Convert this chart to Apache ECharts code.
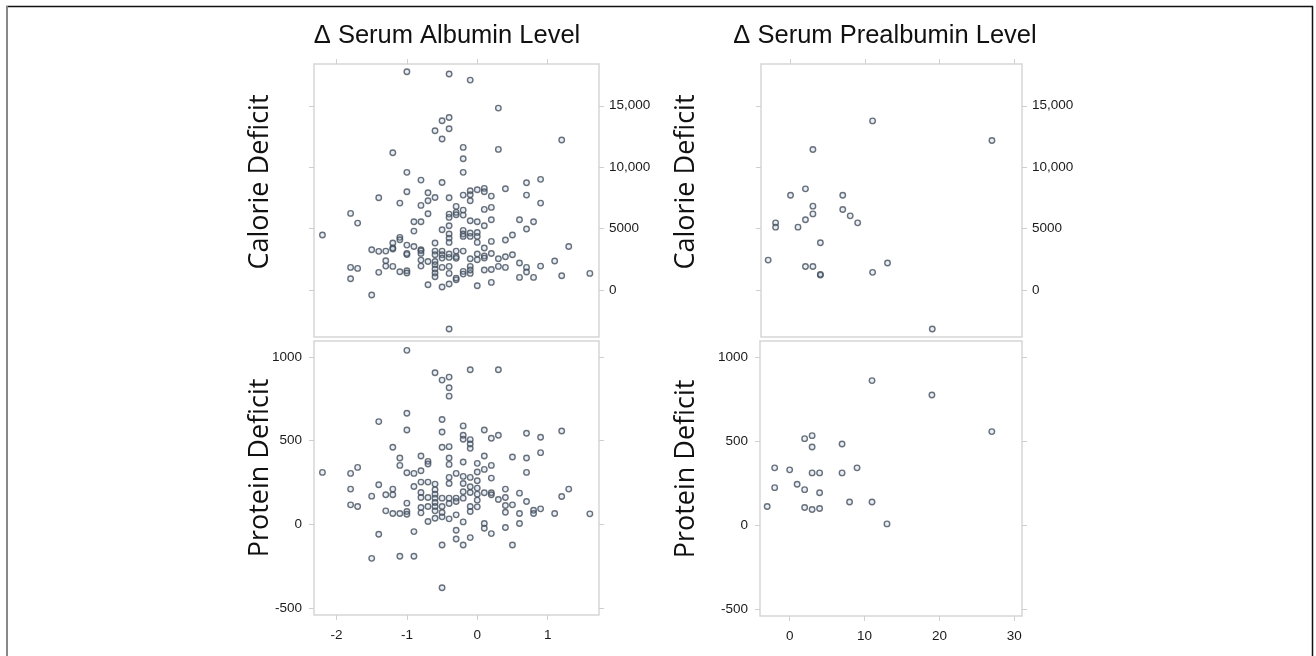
<!DOCTYPE html>
<html>
<head>
<meta charset="utf-8">
<script src="https://cdn.jsdelivr.net/npm/echarts@6/dist/echarts.min.js"></script>
<style>
  html, body { margin: 0; padding: 0; background: #fff; }
  #chart { width: 1316px; height: 656px; }
</style>
</head>
<body>
<div id="chart"></div>
<script>
// tick values
const albuminTicks = [-2, -1, 0, 1]
const prealbuminTicks = [0, 10, 20, 30]
const calorieTicks = [0, 5000, 10000, 15000]
const proteinTicks = [-500, 0, 500, 1000]

// [delta albumin, calorie deficit]
const albuminCalorie = [
  [-1.0, 17770], [-0.4, 17580], [-0.1, 17090], [0.3, 14810], [-0.4, 14050], [-0.5, 13780],
  [-0.6, 12970], [-0.4, 13130], [-0.5, 12290], [1.2, 12210], [-1.2, 11180], [-0.2, 11610],
  [0.3, 11450], [-0.2, 10690], [-1.0, 9580], [-0.2, 9580], [-0.8, 8950], [-0.5, 8760],
  [0.9, 9010], [0.7, 8740], [0.4, 8250], [-1.0, 8000], [-0.1, 8085], [0.0, 8170],
  [0.1, 8275], [0.1, 8000], [-0.1, 7760], [-0.2, 7730], [-0.7, 7920], [-0.4, 7515],
  [-0.6, 7540], [-0.7, 7270], [-1.4, 7515], [0.2, 7650], [0.7, 7730], [-0.1, 7270],
  [-1.1, 7080], [-0.8, 6890], [0.9, 7080], [-0.3, 6810], [-0.2, 6510], [0.1, 6565],
  [0.2, 6730], [-0.4, 6185], [-0.3, 6320], [-0.3, 6130], [-0.7, 6210], [-0.2, 6100],
  [-0.4, 5915], [-1.8, 6240], [-1.7, 5450], [-0.9, 5560], [-0.8, 5560], [-0.1, 5640],
  [0.0, 5560], [0.2, 5725], [0.6, 5725], [0.8, 5560], [0.1, 5235], [-0.4, 5235],
  [-0.5, 4910], [-0.9, 4800], [0.7, 4965], [-0.2, 4856], [-0.2, 4560], [-0.2, 4370],
  [-0.1, 4640], [-0.1, 4370], [0.0, 4690], [0.0, 4370], [-0.4, 4560], [-0.4, 4230],
  [0.5, 4480], [0.4, 4070], [0.2, 3960], [-0.6, 3825], [-0.4, 3880], [0.0, 3880],
  [-1.1, 4290], [-1.1, 4100], [-1.2, 3825], [-1.0, 3660], [-0.9, 3550], [-0.8, 3280],
  [-1.2, 3420], [-1.5, 3280], [-1.4, 3150], [-1.3, 3170], [-1.2, 3340], [-0.6, 3170],
  [-0.5, 3170], [-0.3, 3170], [-0.2, 3170], [0.1, 3420], [0.2, 2980], [-0.6, 2875],
  [-0.5, 2875], [-0.5, 2600], [-0.4, 2660], [-0.3, 2710], [-0.3, 2580], [0.0, 2930],
  [0.1, 2770], [0.1, 2600], [0.0, 2470], [-0.1, 2550], [0.3, 2550], [0.4, 2710],
  [0.5, 2875], [-1.0, 2900], [-1.0, 2985], [-0.8, 3200], [-0.8, 2985], [-0.7, 2330],
  [-0.8, 2440], [-1.3, 2390], [-1.3, 1950], [-1.2, 1925], [-1.4, 1440], [-1.8, 1845],
  [-1.7, 1765], [-1.8, 920], [-1.1, 1490], [-1.0, 1575], [-1.0, 1385], [-0.8, 1950],
  [-0.6, 2330], [-0.6, 2060], [-0.6, 1710], [-0.6, 1385], [-0.6, 1085], [-0.5, 1845],
  [-0.4, 1925], [-0.4, 1357], [-0.3, 840], [-0.2, 1520], [-0.2, 1300], [-0.1, 1925],
  [-0.1, 1357], [-0.1, 1630], [0.1, 1630], [0.2, 1680], [0.3, 1925], [0.4, 1845],
  [0.6, 2200], [0.7, 1845], [0.7, 1465], [0.6, 1030], [0.8, 1030], [0.9, 1950],
  [1.1, 2360], [1.3, 3550], [1.2, 1165], [1.6, 1357], [-0.7, 434], [-0.5, 244],
  [-0.4, 490], [-0.3, 975], [0.0, 353], [0.2, 624], [-1.5, -407], [-0.4, -3174],
  [-2.2, 4480], [-0.4, 2930]
]

// [delta albumin, protein deficit]
const albuminProtein = [
  [-1.0, 1040], [-0.6, 906], [-0.5, 862], [-0.4, 880], [-0.4, 816], [-0.4, 766],
  [-0.1, 924], [0.3, 924], [-1.0, 664], [-1.4, 614], [-1.0, 564], [-0.5, 626],
  [-0.5, 552], [-0.2, 588], [-0.2, 532], [-0.2, 508], [-0.1, 506], [-0.1, 480],
  [-0.1, 454], [0.1, 564], [0.2, 514], [0.3, 532], [0.7, 544], [0.9, 520],
  [1.2, 558], [0.9, 428], [0.5, 402], [0.7, 396], [0.7, 310], [-1.2, 460],
  [-1.1, 396], [-1.1, 352], [-0.8, 408], [-0.7, 376], [-0.7, 360], [-0.5, 460],
  [-0.4, 464], [-0.4, 396], [-0.4, 358], [-0.2, 372], [0.0, 364], [0.1, 408],
  [-2.2, 310], [-1.8, 304], [-1.7, 340], [-1.8, 210], [-1.8, 116], [-1.7, 106],
  [-1.5, 168], [-1.4, 236], [-1.3, 176], [-1.2, 210], [-1.2, 176], [-1.3, 80],
  [-1.2, 64], [-1.1, 64], [-1.0, 76], [-1.0, 60], [-1.0, 126], [-1.0, 308],
  [-0.9, 304], [-0.9, 226], [-0.8, 320], [-0.8, 252], [-0.8, 190], [-0.8, 160],
  [-0.8, 100], [-0.8, 68], [-0.7, 252], [-0.7, 160], [-0.7, 106], [-0.7, 16],
  [-0.6, 240], [-0.6, 206], [-0.6, 180], [-0.6, 156], [-0.6, 130], [-0.6, 106],
  [-0.6, 80], [-0.6, 36], [-0.5, 156], [-0.5, 106], [-0.5, 70], [-0.5, 44],
  [-0.4, 280], [-0.4, 244], [-0.4, 156], [-0.4, 124], [-0.4, 32], [-0.3, 304],
  [-0.3, 156], [-0.3, 136], [-0.3, 56], [-0.2, 286], [-0.2, 244], [-0.2, 194],
  [-0.2, 156], [-0.2, 14], [-0.1, 280], [-0.1, 224], [-0.1, 106], [-0.1, 76],
  [0.0, 312], [0.0, 216], [0.0, 180], [0.0, 144], [0.0, 104], [0.1, 328],
  [0.1, 188], [0.2, 188], [0.2, 176], [0.2, 276], [0.2, 352], [0.3, 148],
  [0.4, 210], [0.4, 160], [0.4, 112], [0.4, 72], [0.5, 116], [0.6, 186],
  [0.6, 64], [0.6, 4], [0.7, 136], [0.8, 84], [0.8, 64], [0.9, 92],
  [1.1, 64], [1.2, 166], [1.3, 210], [1.6, 62], [0.1, 4], [0.1, -24],
  [0.2, -56], [0.4, -20], [0.5, -124], [-0.1, -80], [-0.3, -36], [-0.3, -88],
  [-0.2, -124], [-0.5, -124], [-0.9, -44], [-1.4, -60], [-1.5, -204], [-1.1, -192],
  [-0.9, -192], [-0.5, -380], [0.0, 260], [-0.1, 190]
]

// [delta prealbumin, calorie deficit]
const prealbuminCalorie = [
  [11, 13770], [27, 12170], [3, 11440], [2, 8240], [0, 7720], [7, 7720],
  [3, 6830], [3, 6200], [7, 6560], [8, 6040], [9, 5470], [2, 5720],
  [1, 5120], [-2, 5470], [-2, 5120], [4, 3850], [-3, 2440], [2, 1920],
  [3, 1920], [4, 1220], [4, 1280], [11, 1440], [13, 2200], [19, -3170]
]

// [delta prealbumin, protein deficit]
const prealbuminProtein = [
  [11, 860], [19, 774], [27, 556], [2, 514], [3, 532], [3, 464],
  [7, 482], [-2, 340], [0, 328], [9, 340], [3, 310], [4, 310],
  [7, 310], [-2, 222], [1, 242], [2, 210], [4, 192], [-3, 110],
  [2, 104], [3, 92], [4, 98], [8, 136], [11, 136], [13, 6]
]

const chart = echarts.init(document.getElementById('chart'), null, { renderer: 'canvas' })

const labelFont = { fontFamily: 'Liberation Sans', fontSize: 13.5, color: '#1a1a1a' }
const tickStyle = { color: '#cfcfcf', width: 1 }
const fmt = v => (Math.abs(v) >= 10000 ? v.toLocaleString('en-US') : String(v))

const grids = [
  { left: 314, top: 64, width: 285, height: 273 },
  { left: 761, top: 64, width: 261, height: 273 },
  { left: 314, top: 341, width: 285, height: 274 },
  { left: 760, top: 341, width: 262, height: 275 }
].map(g => Object.assign(g, { show: true, borderColor: '#d6d6d6', borderWidth: 1.5, backgroundColor: '#fff' }))

function axis (gridIndex, position, range, ticks, showLabel, margin) {
  return {
    type: 'value',
    gridIndex,
    position,
    min: range[0],
    max: range[1],
    axisLine: { show: false, onZero: false },
    splitLine: { show: false },
    axisTick: { show: true, inside: false, length: 5, lineStyle: tickStyle, customValues: ticks },
    axisLabel: Object.assign({ show: showLabel, margin, formatter: fmt, customValues: ticks }, labelFont)
  }
}

const albRange = [-2.32, 1.73]
const preRange = [-3.96, 31.03]
const calRange = [-3820, 18400]
const proRange = [-543, 1096]

const xAxis = [
  axis(0, 'top', albRange, albuminTicks, false, 8),
  axis(1, 'top', preRange, prealbuminTicks, false, 8),
  axis(2, 'bottom', albRange, albuminTicks, true, 13),
  axis(3, 'bottom', preRange, prealbuminTicks, true, 13)
]
const yAxis = [
  axis(0, 'left', calRange, calorieTicks, false, 8),
  axis(0, 'right', calRange, calorieTicks, true, 10),
  axis(1, 'left', calRange, calorieTicks, false, 8),
  axis(1, 'right', calRange, calorieTicks, true, 10),
  axis(2, 'left', proRange, proteinTicks, true, 12),
  axis(2, 'right', proRange, proteinTicks, false, 8),
  axis(3, 'left', proRange, proteinTicks, true, 12),
  axis(3, 'right', proRange, proteinTicks, false, 8)
]

function dots (data, xi, yi) {
  return {
    type: 'scatter',
    xAxisIndex: xi,
    yAxisIndex: yi,
    data,
    symbol: 'circle',
    symbolSize: 5.5,
    itemStyle: { color: 'rgba(140,175,210,0.25)', borderColor: '#454e5a', borderWidth: 1.4 }
  }
}

function yTitle (text, x, y) {
  return {
    type: 'text', x, y, rotation: Math.PI / 2,
    style: { text, fontFamily: 'Open Sans', fontSize: 27, fill: '#111', textAlign: 'center', textVerticalAlign: 'middle', align: 'center', verticalAlign: 'middle' }
  }
}
function colTitle (text, x, y) {
  return {
    type: 'text', x, y,
    style: { text, fontFamily: 'Liberation Sans', fontSize: 25.5, fill: '#111', textAlign: 'center', textVerticalAlign: 'middle', align: 'center', verticalAlign: 'middle' }
  }
}

chart.setOption({
  animation: false,
  backgroundColor: '#fff',
  grid: grids,
  xAxis,
  yAxis,
  series: [
    dots(albuminCalorie, 0, 0),
    dots(prealbuminCalorie, 1, 2),
    dots(albuminProtein, 2, 4),
    dots(prealbuminProtein, 3, 6)
  ],
  graphic: [
    { type: 'line', shape: { x1: 6, y1: 6.5, x2: 1313, y2: 6.5 }, style: { stroke: '#111', lineWidth: 1.5 } },
    { type: 'line', shape: { x1: 7, y1: 6, x2: 7, y2: 660 }, style: { stroke: '#888', lineWidth: 2 } },
    { type: 'line', shape: { x1: 1312.5, y1: 6, x2: 1312.5, y2: 660 }, style: { stroke: '#111', lineWidth: 1.5 } },
    colTitle('\u0394 Serum Albumin Level', 447, 36),
    colTitle('\u0394 Serum Prealbumin Level', 885, 36),
    yTitle('Calorie Deficit', 260, 182),
    yTitle('Protein Deficit', 260, 468),
    yTitle('Calorie Deficit', 686, 182),
    yTitle('Protein Deficit', 686, 469)
  ]
})
</script>
</body>
</html>
